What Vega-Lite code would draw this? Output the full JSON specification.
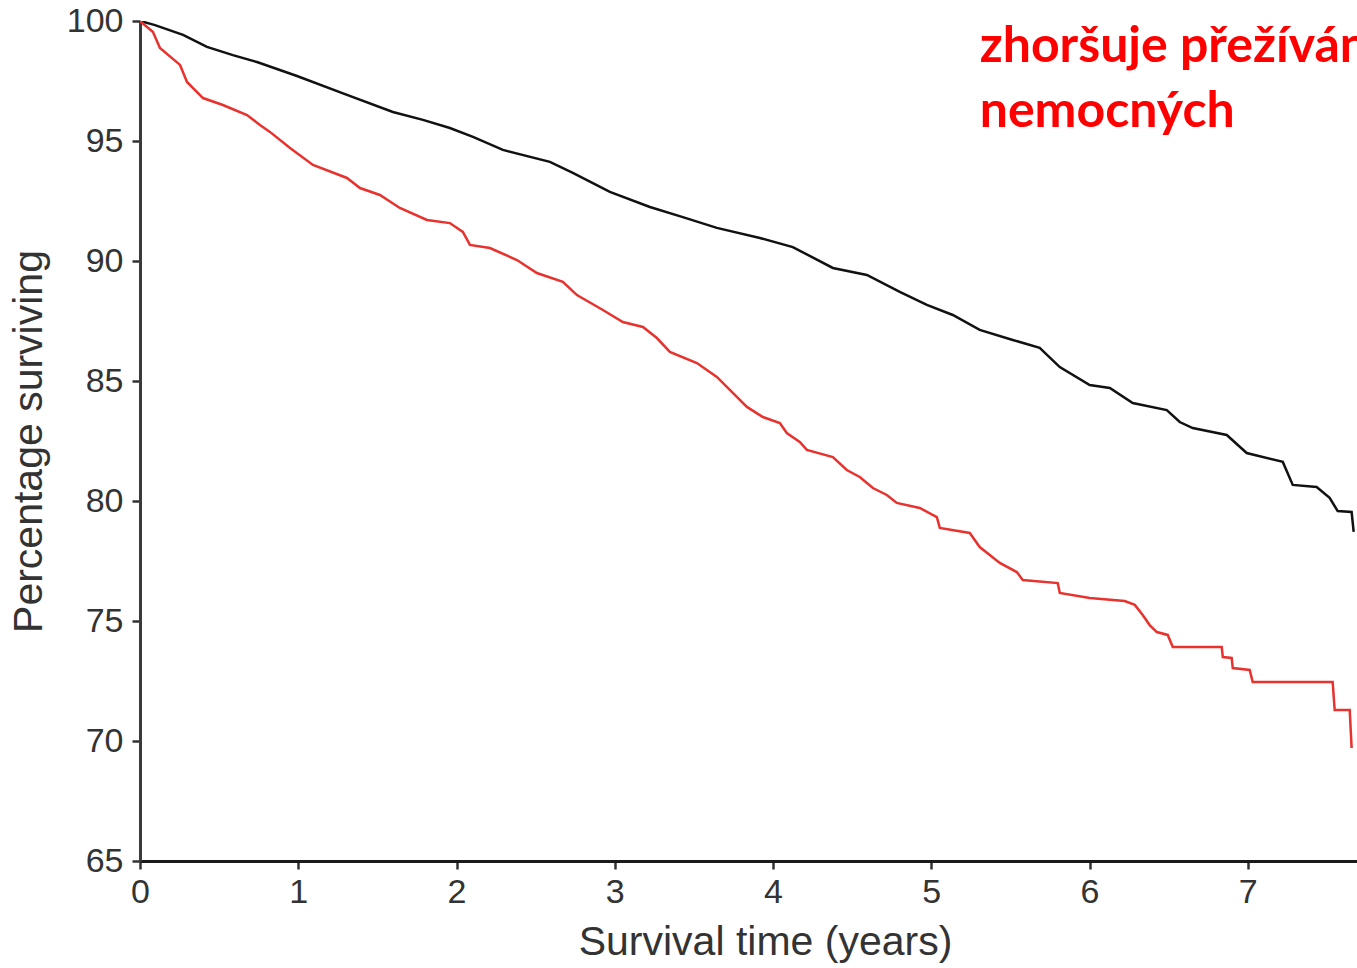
{
  "$schema": "https://vega.github.io/schema/vega-lite/v6.json",
  "autosize": {"type": "none"},
  "padding": {"left": 140, "top": 21, "right": 0, "bottom": 107},
  "width": 1217,
  "height": 840,
  "background": "white",
  "config": {
    "view": {"stroke": null},
    "font": "Liberation Sans"
  },
  "layer": [
    {
      "data": {"values": [
        {"group": "control", "t": 0, "s": 100},
        {"group": "control", "t": 0.095, "s": 99.83},
        {"group": "control", "t": 0.272, "s": 99.42},
        {"group": "control", "t": 0.423, "s": 98.92},
        {"group": "control", "t": 0.587, "s": 98.58},
        {"group": "control", "t": 0.739, "s": 98.29},
        {"group": "control", "t": 0.992, "s": 97.71},
        {"group": "control", "t": 1.308, "s": 96.92},
        {"group": "control", "t": 1.598, "s": 96.21},
        {"group": "control", "t": 1.788, "s": 95.88},
        {"group": "control", "t": 1.958, "s": 95.54},
        {"group": "control", "t": 2.104, "s": 95.17},
        {"group": "control", "t": 2.293, "s": 94.63},
        {"group": "control", "t": 2.59, "s": 94.13},
        {"group": "control", "t": 2.735, "s": 93.67},
        {"group": "control", "t": 2.969, "s": 92.88},
        {"group": "control", "t": 3.222, "s": 92.25},
        {"group": "control", "t": 3.43, "s": 91.83},
        {"group": "control", "t": 3.645, "s": 91.38},
        {"group": "control", "t": 3.917, "s": 90.96},
        {"group": "control", "t": 4.125, "s": 90.58},
        {"group": "control", "t": 4.378, "s": 89.71},
        {"group": "control", "t": 4.593, "s": 89.42},
        {"group": "control", "t": 4.801, "s": 88.71},
        {"group": "control", "t": 4.972, "s": 88.17},
        {"group": "control", "t": 5.136, "s": 87.75},
        {"group": "control", "t": 5.306, "s": 87.13},
        {"group": "control", "t": 5.515, "s": 86.71},
        {"group": "control", "t": 5.685, "s": 86.38},
        {"group": "control", "t": 5.812, "s": 85.58},
        {"group": "control", "t": 6.001, "s": 84.83},
        {"group": "control", "t": 6.128, "s": 84.71},
        {"group": "control", "t": 6.273, "s": 84.08},
        {"group": "control", "t": 6.488, "s": 83.79},
        {"group": "control", "t": 6.57, "s": 83.29},
        {"group": "control", "t": 6.652, "s": 83.04},
        {"group": "control", "t": 6.867, "s": 82.75},
        {"group": "control", "t": 6.993, "s": 82.0},
        {"group": "control", "t": 7.221, "s": 81.63},
        {"group": "control", "t": 7.284, "s": 80.67},
        {"group": "control", "t": 7.435, "s": 80.58},
        {"group": "control", "t": 7.517, "s": 80.13},
        {"group": "control", "t": 7.568, "s": 79.58},
        {"group": "control", "t": 7.656, "s": 79.54},
        {"group": "control", "t": 7.669, "s": 78.71},
        {"group": "exposed", "t": 0, "s": 100},
        {"group": "exposed", "t": 0.082, "s": 99.54},
        {"group": "exposed", "t": 0.126, "s": 98.88},
        {"group": "exposed", "t": 0.253, "s": 98.17},
        {"group": "exposed", "t": 0.297, "s": 97.46},
        {"group": "exposed", "t": 0.398, "s": 96.79},
        {"group": "exposed", "t": 0.524, "s": 96.5},
        {"group": "exposed", "t": 0.676, "s": 96.08},
        {"group": "exposed", "t": 0.758, "s": 95.67},
        {"group": "exposed", "t": 0.821, "s": 95.38},
        {"group": "exposed", "t": 0.948, "s": 94.71},
        {"group": "exposed", "t": 1.093, "s": 94.0},
        {"group": "exposed", "t": 1.308, "s": 93.46},
        {"group": "exposed", "t": 1.39, "s": 93.04},
        {"group": "exposed", "t": 1.516, "s": 92.75},
        {"group": "exposed", "t": 1.642, "s": 92.21},
        {"group": "exposed", "t": 1.813, "s": 91.71},
        {"group": "exposed", "t": 1.958, "s": 91.58},
        {"group": "exposed", "t": 2.04, "s": 91.21},
        {"group": "exposed", "t": 2.085, "s": 90.67},
        {"group": "exposed", "t": 2.211, "s": 90.54},
        {"group": "exposed", "t": 2.382, "s": 90.04},
        {"group": "exposed", "t": 2.508, "s": 89.5},
        {"group": "exposed", "t": 2.672, "s": 89.13},
        {"group": "exposed", "t": 2.761, "s": 88.58},
        {"group": "exposed", "t": 2.925, "s": 87.96},
        {"group": "exposed", "t": 3.051, "s": 87.46},
        {"group": "exposed", "t": 3.178, "s": 87.25},
        {"group": "exposed", "t": 3.266, "s": 86.79},
        {"group": "exposed", "t": 3.348, "s": 86.21},
        {"group": "exposed", "t": 3.519, "s": 85.75},
        {"group": "exposed", "t": 3.645, "s": 85.17},
        {"group": "exposed", "t": 3.727, "s": 84.63},
        {"group": "exposed", "t": 3.835, "s": 83.92},
        {"group": "exposed", "t": 3.936, "s": 83.5},
        {"group": "exposed", "t": 4.043, "s": 83.25},
        {"group": "exposed", "t": 4.087, "s": 82.83},
        {"group": "exposed", "t": 4.169, "s": 82.46},
        {"group": "exposed", "t": 4.214, "s": 82.13},
        {"group": "exposed", "t": 4.378, "s": 81.83},
        {"group": "exposed", "t": 4.466, "s": 81.29},
        {"group": "exposed", "t": 4.548, "s": 81.0},
        {"group": "exposed", "t": 4.631, "s": 80.54},
        {"group": "exposed", "t": 4.719, "s": 80.25},
        {"group": "exposed", "t": 4.782, "s": 79.92},
        {"group": "exposed", "t": 4.927, "s": 79.71},
        {"group": "exposed", "t": 5.035, "s": 79.33},
        {"group": "exposed", "t": 5.054, "s": 78.88},
        {"group": "exposed", "t": 5.243, "s": 78.67},
        {"group": "exposed", "t": 5.306, "s": 78.08},
        {"group": "exposed", "t": 5.433, "s": 77.42},
        {"group": "exposed", "t": 5.54, "s": 77.04},
        {"group": "exposed", "t": 5.578, "s": 76.71},
        {"group": "exposed", "t": 5.799, "s": 76.58},
        {"group": "exposed", "t": 5.812, "s": 76.17},
        {"group": "exposed", "t": 6.001, "s": 75.96},
        {"group": "exposed", "t": 6.222, "s": 75.83},
        {"group": "exposed", "t": 6.286, "s": 75.67},
        {"group": "exposed", "t": 6.336, "s": 75.25},
        {"group": "exposed", "t": 6.38, "s": 74.83},
        {"group": "exposed", "t": 6.425, "s": 74.54},
        {"group": "exposed", "t": 6.494, "s": 74.42},
        {"group": "exposed", "t": 6.526, "s": 73.92},
        {"group": "exposed", "t": 6.835, "s": 73.92},
        {"group": "exposed", "t": 6.842, "s": 73.5},
        {"group": "exposed", "t": 6.898, "s": 73.46},
        {"group": "exposed", "t": 6.905, "s": 73.04},
        {"group": "exposed", "t": 7.012, "s": 72.96},
        {"group": "exposed", "t": 7.031, "s": 72.46},
        {"group": "exposed", "t": 7.536, "s": 72.46},
        {"group": "exposed", "t": 7.549, "s": 71.29},
        {"group": "exposed", "t": 7.644, "s": 71.29},
        {"group": "exposed", "t": 7.656, "s": 69.71}
      ]},
      "mark": {"type": "line", "strokeWidth": 2.5, "interpolate": "linear", "clip": true},
      "encoding": {
        "x": {
          "field": "t", "type": "quantitative",
          "scale": {"domain": [0, 7.69], "nice": false, "zero": false},
          "axis": {
            "values": [0, 1, 2, 3, 4, 5, 6, 7],
            "format": "d",
            "title": "Survival time (years)",
            "titleFont": "Liberation Sans", "titleFontSize": 41, "titleFontWeight": "normal", "titleColor": "#333333",
            "titleX": 625, "titleAlign": "center", "titlePadding": 13,
            "labelFont": "Liberation Sans", "labelFontSize": 34, "labelColor": "#333333", "labelPadding": 6,
            "labelFlush": false,
            "tickSize": 8, "tickWidth": 2.5, "tickColor": "#333333",
            "domainColor": "#1a1a1a", "domainWidth": 3,
            "grid": false
          }
        },
        "y": {
          "field": "s", "type": "quantitative",
          "scale": {"domain": [65, 100], "nice": false, "zero": false},
          "axis": {
            "values": [65, 70, 75, 80, 85, 90, 95, 100],
            "title": "Percentage surviving",
            "titleFont": "Liberation Sans", "titleFontSize": 41, "titleFontWeight": "normal", "titleColor": "#333333",
            "titlePadding": 16,
            "labelFont": "Liberation Sans", "labelFontSize": 34, "labelColor": "#333333", "labelPadding": 9,
            "labelFlush": false,
            "tickSize": 8, "tickWidth": 2.5, "tickColor": "#333333",
            "domainColor": "#3a3a3a", "domainWidth": 3,
            "grid": false
          }
        },
        "color": {
          "field": "group", "type": "nominal",
          "scale": {"domain": ["control", "exposed"], "range": ["#111111", "#e8322e"]},
          "legend": null
        }
      }
    },
    {
      "data": {"values": [{"label": "zhoršuje přežívání\nnemocných"}]},
      "mark": {
        "type": "text", "align": "left", "baseline": "alphabetic",
        "font": "Lato", "fontWeight": "bold", "fontSize": 50,
        "lineBreak": "\n", "lineHeight": 65, "color": "#ff0000", "clip": true
      },
      "encoding": {
        "x": {"datum": 5.306, "type": "quantitative"},
        "y": {"datum": 98.29, "type": "quantitative"},
        "text": {"field": "label"}
      }
    }
  ]
}
